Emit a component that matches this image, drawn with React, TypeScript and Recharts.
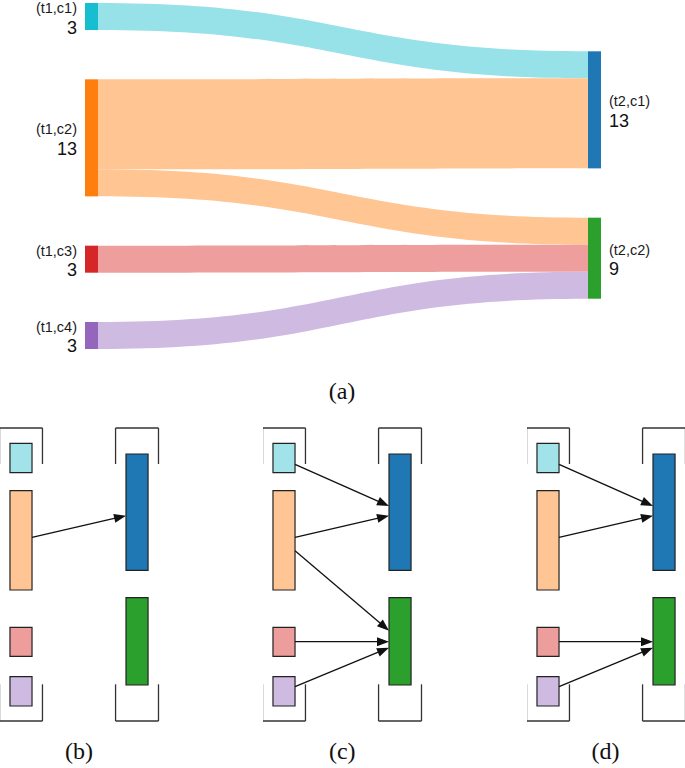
import React from "react";
import {
  Sankey,
  ComposedChart,
  XAxis,
  YAxis,
  ReferenceArea,
  ReferenceLine,
} from "recharts";

// ---- top sankey (a) ----
const nodeNames = ["(t1,c1)", "(t1,c2)", "(t1,c3)", "(t1,c4)", "(t2,c1)", "(t2,c2)"];
const nodeColors = ["#17becf", "#ff7f0e", "#d62728", "#9467bd", "#1f77b4", "#2ca02c"];
const lightColors = ["#97e2e9", "#ffc592", "#ed9e9d", "#cfbbe1", "#1f77b4", "#2ca02c"];
const linkSources = [0, 1, 1, 2, 3];
const linkTargets = [4, 4, 5, 5, 5];
const linkValues = [3, 10, 3, 3, 3];

// ---- schematic panels (b), (c), (d) ----
// column index, top, bottom (schematic units, y grows down)
const boxColumn = [0, 0, 0, 0, 1, 1];
const boxTop = [23.3, 70.7, 207.3, 256.7, 34, 177.7];
const boxBottom = [52.7, 170, 236.3, 286, 150.3, 265];
const boxFill = ["#a2e3ea", "#ffc594", "#ed9e9c", "#cfbbe1", "#1f77b4", "#2ca02c"];

// arrows: source box, target box, y at source, y at target
const arrowFrom = [0, 1, 1, 2, 3];
const arrowTo = [4, 4, 5, 5, 5];
const arrowY1 = [44.3, 117.3, 130.7, 221.7, 266.7];
const arrowY2 = [86, 95.7, 210.7, 221.7, 227.7];

const panelLabels = ["(b)", "(c)", "(d)"];
const panelArrows = [[1], [0, 1, 2, 3, 4], [0, 1, 3, 4]];

const bracketTop = [8, 44];
const bracketBottom = [264.3, 301];

const sankeyData = {
  nodes: nodeNames.map((name) => ({ name })),
  links: linkValues.map((value, i) => ({
    source: linkSources[i],
    target: linkTargets[i],
    value,
  })),
};

const SankeyNode = (props: any) => {
  const { x, y, width, height, payload } = props;
  const idx = nodeNames.indexOf(payload.name);
  const left = payload.depth === 0;
  const cy = y + height / 2;
  const tx = left ? x - 8 : x + width + 8;
  const anchor = left ? "end" : "start";
  return (
    <g>
      <rect x={x} y={y} width={width} height={height} fill={nodeColors[idx]} />
      <text x={tx} y={cy - 3.5} textAnchor={anchor} fontSize={14.5} fill="#1a1a1a">
        {payload.name}
      </text>
      <text x={tx} y={cy + 17} textAnchor={anchor} fontSize={18} fill="#111">
        {payload.value}
      </text>
    </g>
  );
};

const SankeyLink = (props: any) => {
  const { sourceX, targetX, sourceY, targetY, sourceControlX, targetControlX, linkWidth, payload } = props;
  const h = linkWidth / 2;
  const idx = nodeNames.indexOf(payload.source.name);
  const d =
    `M${sourceX},${sourceY - h} C${sourceControlX},${sourceY - h} ${targetControlX},${targetY - h} ${targetX},${targetY - h}` +
    ` L${targetX},${targetY + h} C${targetControlX},${targetY + h} ${sourceControlX},${sourceY + h} ${sourceX},${sourceY + h} Z`;
  return <path d={d} fill={lightColors[idx]} stroke="none" />;
};

const Arrow = (p: any) => {
  const { x1, y1, x2, y2 } = p;
  const a = Math.atan2(y2 - y1, x2 - x1);
  const L = 12;
  const W = 4.5;
  const bx = x2 - L * Math.cos(a);
  const by = y2 - L * Math.sin(a);
  const pts = `${x2},${y2} ${bx - W * Math.sin(a)},${by + W * Math.cos(a)} ${bx + W * Math.sin(a)},${by - W * Math.cos(a)}`;
  return (
    <g>
      <line x1={x1} y1={y1} x2={bx + 1 * Math.cos(a)} y2={by + 1 * Math.sin(a)} stroke="#111" strokeWidth={1.3} />
      <polygon points={pts} fill="#111" />
    </g>
  );
};

const colX = [0, 1];
const boxHalf = 0.095;
const bracketHalf = 0.185;

function Panel({ arrows }: { arrows: number[] }) {
  const brackets: any[] = [];
  colX.forEach((cx) => {
    const l = cx - bracketHalf;
    const r = cx + bracketHalf;
    // top bracket
    brackets.push([[l, bracketTop[0]], [r, bracketTop[0]]]);
    brackets.push([[l, bracketTop[0]], [l, bracketTop[1]]]);
    brackets.push([[r, bracketTop[0]], [r, bracketTop[1]]]);
    // bottom bracket
    brackets.push([[l, bracketBottom[1]], [r, bracketBottom[1]]]);
    brackets.push([[l, bracketBottom[0]], [l, bracketBottom[1]]]);
    brackets.push([[r, bracketBottom[0]], [r, bracketBottom[1]]]);
  });
  return (
    <ComposedChart width={160} height={310} data={[]} margin={{ top: 0, right: 0, bottom: 0, left: 0 }}>
      <XAxis type="number" dataKey="x" domain={[-0.181, 1.198]} hide allowDataOverflow />
      <YAxis type="number" dataKey="y" domain={[0, 310]} reversed hide allowDataOverflow />
      {brackets.map((s, i) => (
        <ReferenceLine
          key={`b${i}`}
          segment={[{ x: s[0][0], y: s[0][1] }, { x: s[1][0], y: s[1][1] }]}
          stroke="#333"
          strokeWidth={1.3}
          ifOverflow="visible"
        />
      ))}
      {boxTop.map((t, i) => (
        <ReferenceArea
          key={`r${i}`}
          x1={colX[boxColumn[i]] - boxHalf}
          x2={colX[boxColumn[i]] + boxHalf}
          y1={t}
          y2={boxBottom[i]}
          fill={boxFill[i]}
          fillOpacity={1}
          stroke="#222"
          strokeWidth={1.2}
          ifOverflow="visible"
        />
      ))}
      {arrows.map((k) => (
        <ReferenceLine
          key={`a${k}`}
          segment={[
            { x: colX[boxColumn[arrowFrom[k]]] + boxHalf, y: arrowY1[k] },
            { x: colX[boxColumn[arrowTo[k]]] - boxHalf, y: arrowY2[k] },
          ]}
          shape={Arrow}
          ifOverflow="visible"
        />
      ))}
    </ComposedChart>
  );
}

export default function App() {
  return (
    <div
      style={{
        position: "absolute",
        top: 0,
        left: 0,
        width: 685,
        height: 768,
        background: "#fff",
        fontFamily: "'Liberation Sans', Arial, sans-serif",
      }}
    >
      <div style={{ position: "absolute", top: 0, left: 0 }}>
        <Sankey
          width={685}
          height={362}
          data={sankeyData}
          nodeWidth={13}
          nodePadding={49.3}
          sort={false}
          margin={{ top: 3, right: 84, bottom: 13, left: 85 }}
          node={SankeyNode}
          link={SankeyLink}
        />
      </div>
      {panelArrows.map((arrows, i) => (
        <div key={i} style={{ position: "absolute", top: 420, left: i * 263.3 }}>
          <Panel arrows={arrows} />
        </div>
      ))}
      <svg width={685} height={768} style={{ position: "absolute", top: 0, left: 0, pointerEvents: "none" }}>
        <text x={342} y={399} textAnchor="middle" fontSize={24} fontFamily="'Liberation Serif', serif" fill="#111">
          (a)
        </text>
        {panelLabels.map((t, i) => (
          <text key={t} x={79 + i * 263.3} y={759} textAnchor="middle" fontSize={24} fontFamily="'Liberation Serif', serif" fill="#111">
            {t}
          </text>
        ))}
      </svg>
    </div>
  );
}
